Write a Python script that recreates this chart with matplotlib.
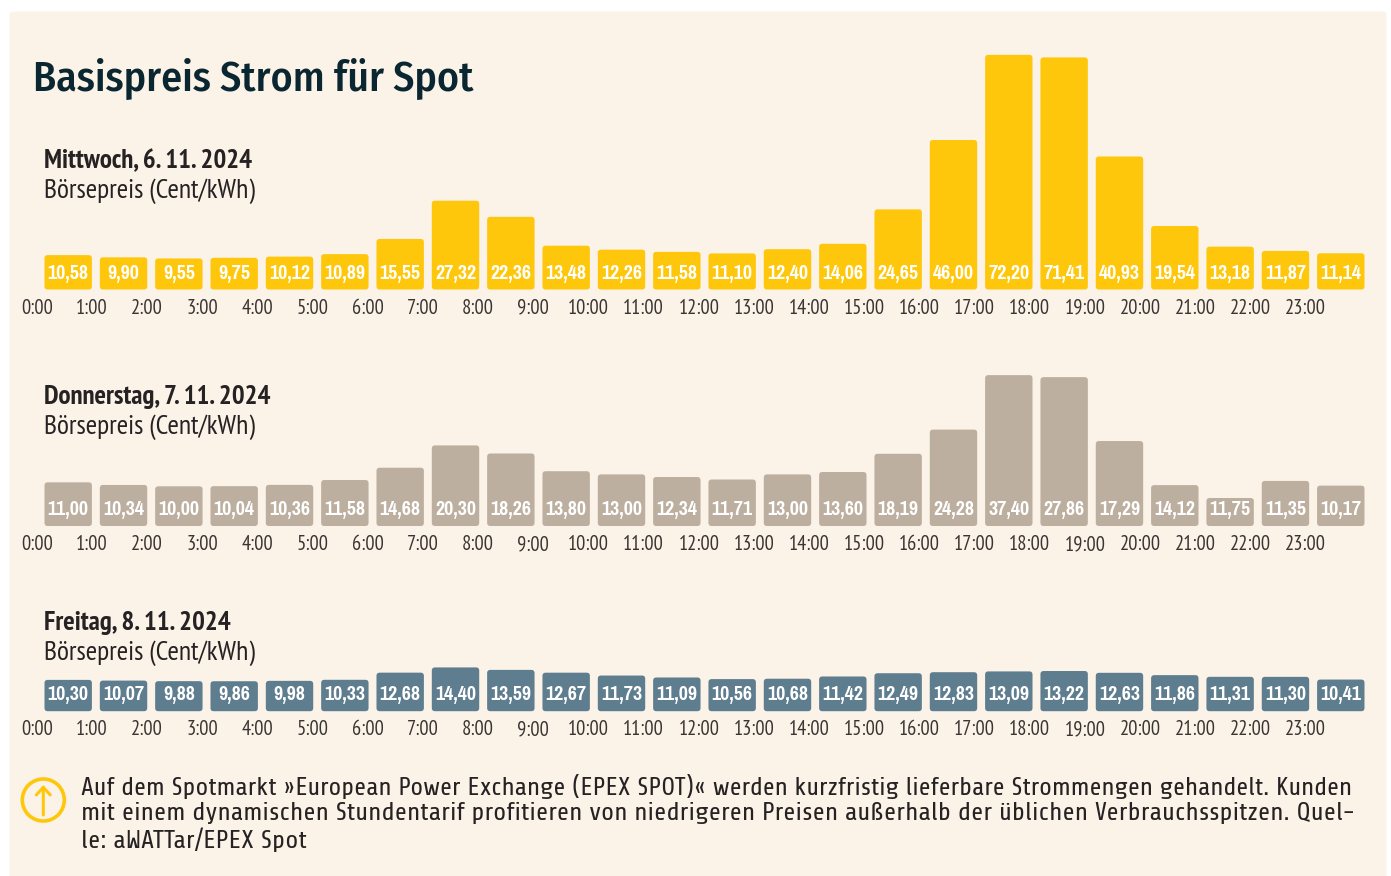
import matplotlib
matplotlib.use("Agg")
import matplotlib.pyplot as plt
from matplotlib.patches import FancyBboxPatch, Circle

hours = [f"{h}:00" for h in range(24)]
mittwoch = [10.58, 9.90, 9.55, 9.75, 10.12, 10.89, 15.55, 27.32, 22.36, 13.48, 12.26, 11.58,
            11.10, 12.40, 14.06, 24.65, 46.00, 72.20, 71.41, 40.93, 19.54, 13.18, 11.87, 11.14]
donnerstag = [11.00, 10.34, 10.00, 10.04, 10.36, 11.58, 14.68, 20.30, 18.26, 13.80, 13.00, 12.34,
              11.71, 13.00, 13.60, 18.19, 24.28, 37.40, 27.86, 17.29, 14.12, 11.75, 11.35, 10.17]
# drawn bar heights in the reference differ from the printed labels for some hours
donnerstag_heights = [11.00, 10.34, 10.00, 10.04, 10.36, 11.58, 14.68, 20.30, 18.26, 13.80, 13.00, 12.34,
                      11.71, 13.00, 13.60, 18.19, 24.28, 38.00, 37.50, 21.40, 10.30, 7.05, 11.35, 10.17]
freitag = [10.30, 10.07, 9.88, 9.86, 9.98, 10.33, 12.68, 14.40, 13.59, 12.67, 11.73, 11.09,
           10.56, 10.68, 11.42, 12.49, 12.83, 13.09, 13.22, 12.63, 11.86, 11.31, 11.30, 10.41]
note_lines = ["Auf dem Spotmarkt »European Power Exchange (EPEX SPOT)« werden kurzfristig lieferbare Strommengen gehandelt. Kunden",
              "mit einem dynamischen Stundentarif profitieren von niedrigeren Preisen außerhalb der üblichen Verbrauchsspitzen. Quel-",
              "le: aWATTar/EPEX Spot"]
note_widths = [1276, 1270, 225]

W, H = 1391, 876
BG = "#fbf2e8"
INK = "#262223"
fig = plt.figure(figsize=(W / 100, H / 100), dpi=100, facecolor="white")
renderer = fig.canvas.get_renderer()

F_NUM = ["Pragati Narrow", "Liberation Sans", "DejaVu Sans"]
F_TICK = ["PT Sans Narrow", "Lato", "DejaVu Sans"]
F_BODY = ["Share", "Open Sans", "DejaVu Sans"]
F_TITLE = ["Fira Sans Condensed", "Lato", "DejaVu Sans"]


def fit(text, family, weight, target_px):
    """font size in points that gives the text the wanted width"""
    t = fig.text(0, 0, text, family=family, fontweight=weight, fontsize=20)
    w = t.get_window_extent(renderer).width
    t.remove()
    return 20 * target_px / w


S_NUM = fit("10,58", F_NUM, "bold", 41)
S_TICK = fit("10:00", F_TICK, "normal", 41)
S_HEAD = fit("Mittwoch, 6. 11. 2024", F_TICK, "bold", 209)
S_SUB = fit("Börsepreis (Cent/kWh)", F_TICK, "normal", 211)
S_TITLE = fit("Basispreis Strom für Spot", F_TITLE, "medium", 441)

bg = fig.add_axes([0, 0, 1, 1], zorder=0)
bg.set_xlim(0, W)
bg.set_ylim(H, 0)
bg.axis("off")
bg.add_patch(FancyBboxPatch((9.5, 11.5), 1377, 900, boxstyle="round,pad=0,rounding_size=4", fc=BG, ec="none"))


def panel(values, heights, color, baseline, scale, title, ty, label_y):
    step = 55.33
    x_first = 68.2
    top_v = 75
    ax = fig.add_axes([(x_first - step) / W, 1 - baseline / H, 25 * step / W, top_v * scale / H], zorder=2)
    ax.patch.set_alpha(0)
    for s in ax.spines.values():
        s.set_visible(False)
    ax.set_yticks([])
    ax.set_xticks([-0.566 + 0.997 * i for i in range(24)])
    ax.set_xticklabels(hours, family=F_TICK, fontsize=S_TICK, color="#3a3533")
    ax.tick_params(axis="x", length=0, pad=17.3)
    for lab in ax.get_xticklabels():
        lab.set_verticalalignment("baseline")
    ax.set_xlim(-1, 24)
    ax.set_ylim(0, top_v)
    barw = 47.4 / step
    r = 3.2 / step
    aspect = step / scale
    for i, v in enumerate(heights):
        ax.add_patch(FancyBboxPatch((i - barw / 2, 0), barw, v, boxstyle=f"round,pad=0,rounding_size={r}",
                                    mutation_aspect=aspect, fc=color, ec="none", clip_on=False))
        t = f"{values[i]:.2f}".replace(".", ",")
        ax.text(i, (baseline - label_y) / scale, t, ha="center", va="center", color="white",
                family=F_NUM, fontsize=S_NUM, fontweight="bold")
    bg.text(44, ty, title, family=F_TICK, fontweight="bold", fontsize=S_HEAD, color=INK, va="center")
    bg.text(44, ty + 30, "Börsepreis (Cent/kWh)", family=F_TICK, fontsize=S_SUB, color=INK, va="center")


panel(mittwoch, mittwoch, "#ffc70b", 289.5, 3.25, "Mittwoch, 6. 11. 2024", 161, 273.5)
panel(donnerstag, donnerstag_heights, "#bdaf9f", 526, 3.97, "Donnerstag, 7. 11. 2024", 397, 509.5)
panel(freitag, freitag, "#5e7d8e", 711.2, 3.04, "Freitag, 8. 11. 2024", 623, 694.5)

bg.text(33, 78.5, "Basispreis Strom für Spot", family=F_TITLE, fontsize=S_TITLE, fontweight="medium",
        color="#0a2630", va="center")

bg.add_patch(Circle((43.3, 800), 21, fc="none", ec="#ffc70b", lw=2.6))
bg.annotate("", xy=(43.3, 785), xytext=(43.3, 815),
            arrowprops=dict(arrowstyle="->,head_length=0.55,head_width=0.5", color="#ffc70b", lw=2.2,
                            shrinkA=0, shrinkB=0))
for y, l, w in zip((786.5, 813, 839.5), note_lines, note_widths):
    bg.text(81, y, l, family=F_BODY, fontsize=fit(l, F_BODY, "normal", w), color=INK, va="center")

fig.savefig("out.png", dpi=100, facecolor="white")
